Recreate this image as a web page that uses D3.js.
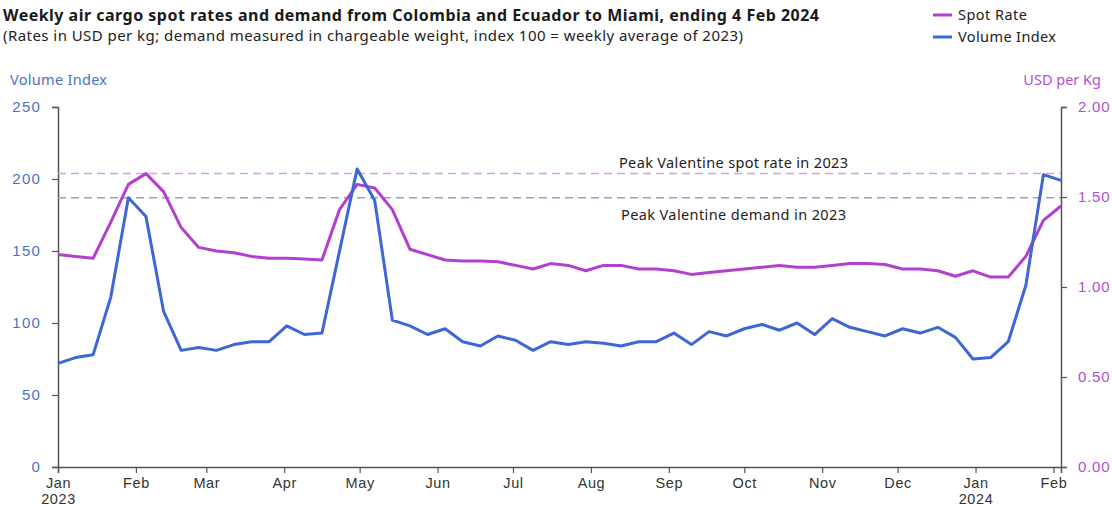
<!DOCTYPE html>
<html>
<head>
<meta charset="utf-8">
<script src="https://cdn.jsdelivr.net/npm/d3@7"></script>
<style>
  body { margin: 0; background: #fff; }
  svg { display: block; font-family: "Noto Sans", "Open Sans", sans-serif; }
</style>
</head>
<body>
<div id="chart"></div>
<script>
// weekly data, weeks ending on Sundays, 1 Jan 2023 .. 4 Feb 2024
const firstWeek = new Date(2023, 0, 1);
const lastWeek = new Date(2024, 1, 4);

// Volume Index (index 100 = weekly average of 2023)
const volumeIndex = [
  72, 76, 78, 118, 187, 174, 108, 81, 83, 81,
  85, 87, 87, 98, 92, 93, 150, 207, 185, 102,
  98, 92, 96, 87, 84, 91, 88, 81, 87, 85,
  87, 86, 84, 87, 87, 93, 85, 94, 91, 96,
  99, 95, 100, 92, 103, 97, 94, 91, 96, 93,
  97, 90, 75, 76, 87, 126, 203, 199
];

// Spot rate, USD per kg
const spotRate = [
  1.18, 1.17, 1.16, 1.36, 1.57, 1.63, 1.53, 1.33, 1.22, 1.20,
  1.19, 1.17, 1.16, 1.16, 1.155, 1.15, 1.43, 1.57, 1.55, 1.43,
  1.21, 1.18, 1.15, 1.145, 1.145, 1.14, 1.12, 1.10, 1.13, 1.12,
  1.09, 1.12, 1.12, 1.10, 1.10, 1.09, 1.07, 1.08, 1.09, 1.10,
  1.11, 1.12, 1.11, 1.11, 1.12, 1.13, 1.13, 1.125, 1.10, 1.10,
  1.09, 1.06, 1.09, 1.055, 1.055, 1.17, 1.37, 1.45
];

const peakSpot2023 = 1.63;
const peakVolume2023 = 187;

const leftTicks = [0, 50, 100, 150, 200, 250];
const rightTicks = [0, 0.5, 1, 1.5, 2];

const weeks = d3.timeWeek.range(firstWeek, d3.timeDay.offset(lastWeek, 1));

const width = 1112, height = 509;
const margin = { top: 107, right: 51, bottom: 42, left: 58 };

const pink = "#b33fcf";
const blue = "#3e66d6";

const svg = d3.select("#chart").append("svg")
  .attr("width", width)
  .attr("height", height);

const x = d3.scaleTime()
  .domain([firstWeek, lastWeek])
  .range([margin.left, width - margin.right]);

const yL = d3.scaleLinear()
  .domain([0, 250])
  .range([height - margin.bottom, margin.top]);

const yR = d3.scaleLinear()
  .domain([0, 2])
  .range([height - margin.bottom, margin.top]);

// title
svg.append("text")
  .attr("x", 3).attr("y", 21)
  .attr("font-size", 16).attr("font-weight", 700).attr("fill", "#1a1a1a")
  .attr("textLength", 816).attr("lengthAdjust", "spacing")
  .text("Weekly air cargo spot rates and demand from Colombia and Ecuador to Miami, ending 4 Feb 2024");
svg.append("text")
  .attr("x", 3).attr("y", 41)
  .attr("font-size", 15).attr("fill", "#222")
  .attr("textLength", 740).attr("lengthAdjust", "spacing")
  .text("(Rates in USD per kg; demand measured in chargeable weight, index 100 = weekly average of 2023)");

// legend
const legend = svg.append("g").attr("transform", "translate(933,0)");
[["Spot Rate", pink, 15, 69], ["Volume Index", blue, 37, 98]].forEach(([name, col, ly, len]) => {
  legend.append("line")
    .attr("x1", 0).attr("x2", 19).attr("y1", ly).attr("y2", ly)
    .attr("stroke", col).attr("stroke-width", 3);
  legend.append("text")
    .attr("x", 25).attr("y", ly + 5)
    .attr("font-size", 14.5).attr("fill", "#222")
    .attr("textLength", len).attr("lengthAdjust", "spacing")
    .text(name);
});

// axis titles
svg.append("text")
  .attr("x", 10).attr("y", 85)
  .attr("font-size", 14.5).attr("fill", "#4a72c8")
  .attr("textLength", 97).attr("lengthAdjust", "spacing")
  .text("Volume Index");
svg.append("text")
  .attr("x", 1101).attr("y", 85)
  .attr("text-anchor", "end")
  .attr("font-size", 14.5).attr("fill", "#b34fd2")
  .text("USD per Kg");

// left axis
const axL = svg.append("g")
  .attr("transform", `translate(${margin.left},0)`)
  .call(d3.axisLeft(yL).tickValues(leftTicks).tickSize(6).tickPadding(11));
axL.selectAll("text").attr("fill", "#4a72c8").attr("font-size", 15).attr("letter-spacing", 1.2);

// right axis
const axR = svg.append("g")
  .attr("transform", `translate(${width - margin.right},0)`)
  .call(d3.axisRight(yR).tickValues(rightTicks).tickFormat(d3.format(".2f")).tickSize(6).tickPadding(11));
axR.selectAll("text").attr("fill", "#b34fd2").attr("font-size", 15).attr("letter-spacing", 0.8);

// bottom axis
const axB = svg.append("g")
  .attr("transform", `translate(0,${height - margin.bottom})`)
  .call(d3.axisBottom(x)
    .ticks(d3.timeMonth.every(1))
    .tickFormat(d3.timeFormat("%b"))
    .tickSize(6).tickPadding(5));
axB.selectAll("text").attr("fill", "#333").attr("font-size", 14.5).attr("letter-spacing", 0.6)
  .each(function(d) {
    if (d.getMonth() === 0) {
      d3.select(this).append("tspan")
        .attr("x", 0).attr("dy", "1.1em")
        .text(d.getFullYear());
    }
  });

[axL, axR, axB].forEach(a => {
  a.select(".domain").attr("stroke", "#555").attr("stroke-width", 1.5);
  a.selectAll(".tick line").attr("stroke", "#555").attr("stroke-width", 1.2);
});

// reference lines
svg.append("line")
  .attr("x1", margin.left).attr("x2", width - margin.right)
  .attr("y1", yR(peakSpot2023)).attr("y2", yR(peakSpot2023))
  .attr("stroke", "#d7a2e3").attr("stroke-width", 1.5)
  .attr("stroke-dasharray", "8,5");
svg.append("line")
  .attr("x1", margin.left).attr("x2", width - margin.right)
  .attr("y1", yL(peakVolume2023)).attr("y2", yL(peakVolume2023))
  .attr("stroke", "#8ea3cc").attr("stroke-width", 1.5)
  .attr("stroke-dasharray", "8,5");

svg.append("text")
  .attr("x", 733.5).attr("y", yR(peakSpot2023) - 6)
  .attr("text-anchor", "middle")
  .attr("font-size", 14.5).attr("fill", "#222")
  .attr("textLength", 229).attr("lengthAdjust", "spacing")
  .text("Peak Valentine spot rate in 2023");
svg.append("text")
  .attr("x", 733.5).attr("y", yL(peakVolume2023) + 22)
  .attr("text-anchor", "middle")
  .attr("font-size", 14.5).attr("fill", "#222")
  .attr("textLength", 225).attr("lengthAdjust", "spacing")
  .text("Peak Valentine demand in 2023");

// series
const lineL = d3.line()
  .x((d, i) => x(weeks[i]))
  .y(d => yL(d));
const lineR = d3.line()
  .x((d, i) => x(weeks[i]))
  .y(d => yR(d));

svg.append("path")
  .datum(spotRate)
  .attr("fill", "none")
  .attr("stroke", pink)
  .attr("stroke-width", 3)
  .attr("stroke-linejoin", "round")
  .attr("d", lineR);

svg.append("path")
  .datum(volumeIndex)
  .attr("fill", "none")
  .attr("stroke", blue)
  .attr("stroke-width", 3)
  .attr("stroke-linejoin", "round")
  .attr("d", lineL);
</script>
</body>
</html>
